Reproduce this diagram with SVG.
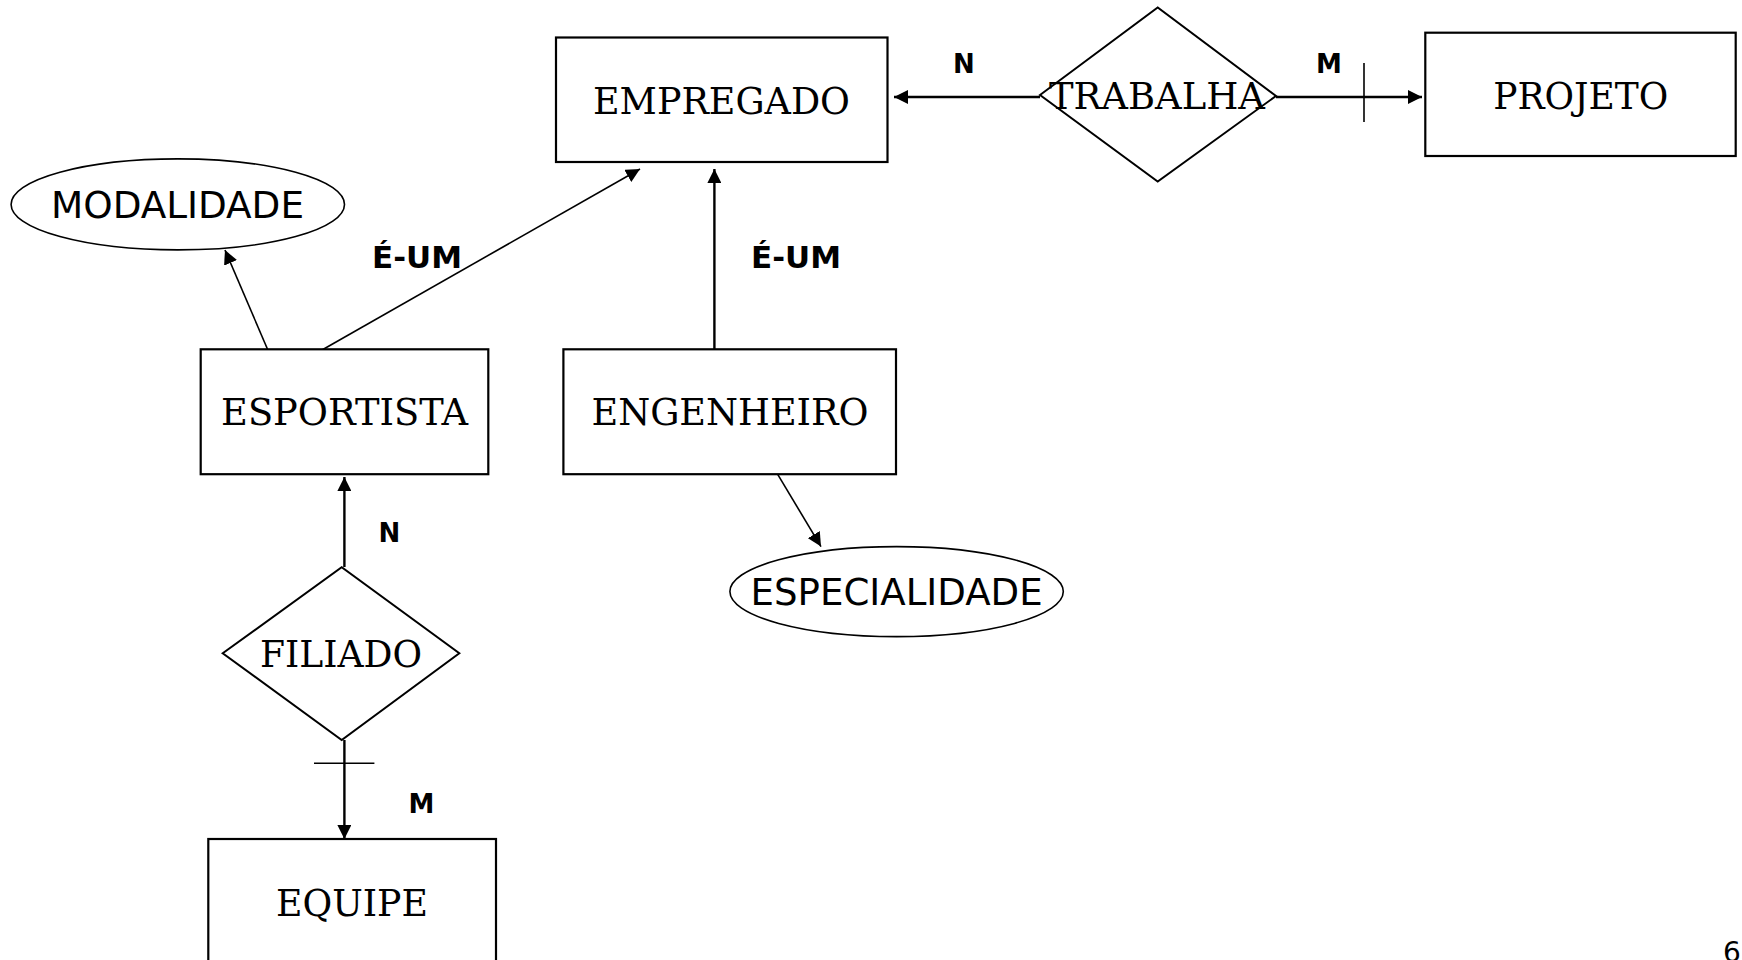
<svg xmlns="http://www.w3.org/2000/svg" width="1742" height="960" viewBox="0 0 1742 960">
<style>
.ent{fill:#fff;stroke:#000;stroke-width:2.2}
.rel{fill:#fff;stroke:#000;stroke-width:2}
.att{fill:#fff;stroke:#000;stroke-width:1.6}
.serif{font-family:"DejaVu Serif","Liberation Serif",serif;font-stretch:condensed;font-size:38px;fill:#000;text-anchor:middle}
.sans{font-family:"DejaVu Sans","Liberation Sans",sans-serif;font-stretch:condensed;font-size:38px;fill:#000;text-anchor:middle}
.lbl{font-family:"DejaVu Sans","Liberation Sans",sans-serif;font-weight:bold;font-size:26px;fill:#000;text-anchor:middle}
.isa{font-size:30px}
.ln{stroke:#000;stroke-width:2.4;fill:none}
.thin{stroke:#000;stroke-width:1.6;fill:none}
</style>
<defs>
<marker id="arr" viewBox="0 0 14 14" refX="14" refY="7" markerWidth="14" markerHeight="14" markerUnits="userSpaceOnUse" orient="auto">
<path d="M0,0 L14,7 L0,14 Z" fill="#000"/>
</marker>
</defs>
<g id="connectors">
<line class="ln" x1="1040" y1="97" x2="894" y2="97" marker-end="url(#arr)"/>
<line class="ln" x1="1276" y1="97" x2="1422" y2="97" marker-end="url(#arr)"/>
<line class="thin" x1="1364" y1="63" x2="1364" y2="122"/>
<line class="thin" x1="322" y1="350" x2="640" y2="169" marker-end="url(#arr)"/>
<line class="thin" x1="270" y1="355" x2="225" y2="250" marker-end="url(#arr)"/>
<line class="ln" x1="714.4" y1="350" x2="714.4" y2="169" marker-end="url(#arr)"/>
<line class="thin" x1="777.7" y1="474.4" x2="821" y2="546.6" marker-end="url(#arr)"/>
<line class="ln" x1="344.4" y1="567" x2="344.4" y2="477" marker-end="url(#arr)"/>
<line class="ln" x1="344.4" y1="740" x2="344.4" y2="839" marker-end="url(#arr)"/>
<line class="thin" x1="314" y1="763.3" x2="374.4" y2="763.3"/>
<text class="lbl" x="964" y="73">N</text>
<text class="lbl" x="1329" y="73">M</text>
<text class="lbl isa" x="417" y="268" textLength="90" lengthAdjust="spacingAndGlyphs">É-UM</text>
<text class="lbl isa" x="796" y="268" textLength="90" lengthAdjust="spacingAndGlyphs">É-UM</text>
<text class="lbl" x="389.5" y="542">N</text>
<text class="lbl" x="421.5" y="813">M</text>
</g>
<g id="empregado">
<rect class="ent" x="556" y="37.5" width="331.5" height="124.5"/>
<text class="serif" x="721.5" y="113.5" textLength="257" lengthAdjust="spacingAndGlyphs">EMPREGADO</text>
</g>
<g id="trabalha">
<polygon class="rel" points="1040,95 1157.7,7.5 1276,96 1157.7,181.5"/>
<text class="serif" x="1157" y="108.5" textLength="216" lengthAdjust="spacingAndGlyphs">TRABALHA</text>
</g>
<g id="projeto">
<rect class="ent" x="1425.3" y="32.7" width="310.4" height="123.3"/>
<text class="serif" x="1580.8" y="108.5" textLength="175" lengthAdjust="spacingAndGlyphs">PROJETO</text>
</g>
<g id="modalidade">
<ellipse class="att" cx="177.8" cy="204.4" rx="166.7" ry="45.5"/>
<text class="sans" x="177.5" y="217.5" textLength="253" lengthAdjust="spacingAndGlyphs">MODALIDADE</text>
</g>
<g id="esportista">
<rect class="ent" x="200.7" y="349.3" width="287.6" height="124.9"/>
<text class="serif" x="344.6" y="425" textLength="247" lengthAdjust="spacingAndGlyphs">ESPORTISTA</text>
</g>
<g id="engenheiro">
<rect class="ent" x="563.4" y="349.3" width="332.6" height="124.9"/>
<text class="serif" x="730" y="425" textLength="277" lengthAdjust="spacingAndGlyphs">ENGENHEIRO</text>
</g>
<g id="especialidade">
<ellipse class="att" cx="896.6" cy="591.6" rx="166.7" ry="45"/>
<text class="sans" x="896.6" y="605" textLength="292" lengthAdjust="spacingAndGlyphs">ESPECIALIDADE</text>
</g>
<g id="filiado">
<polygon class="rel" points="222.7,653.3 341.7,567.3 459.3,653.3 341.7,740"/>
<text class="serif" x="341" y="667" textLength="162" lengthAdjust="spacingAndGlyphs">FILIADO</text>
</g>
<g id="equipe">
<rect class="ent" x="208.3" y="839" width="287.7" height="124"/>
<text class="serif" x="352" y="915.5" textLength="152" lengthAdjust="spacingAndGlyphs">EQUIPE</text>
</g>
<text font-family="DejaVu Sans, sans-serif" font-size="28" x="1723" y="962">6</text>
</svg>
